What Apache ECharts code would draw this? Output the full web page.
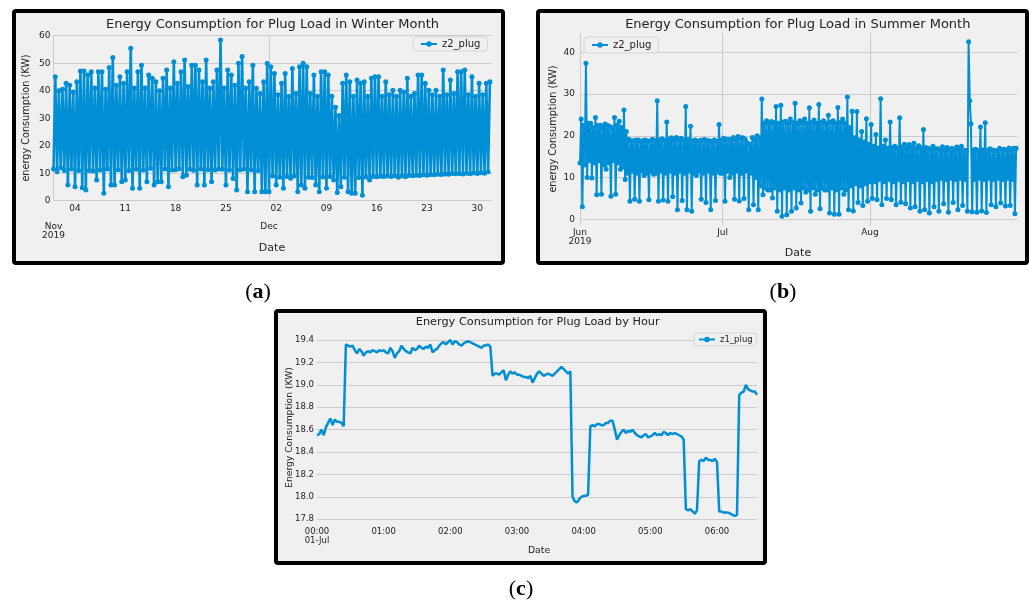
<!DOCTYPE html>
<html><head><meta charset="utf-8">
<script src="https://cdn.jsdelivr.net/npm/echarts@6/dist/echarts.min.js"></script>
<style>html,body{margin:0;padding:0;background:#fff}#c{width:1029px;height:603px}</style>
</head><body><div id="c"></div>
<script>
// ---------- (a) Winter: Nov 1 – Dec 31 2019, readings every 6 h ----------
const winterStepDays = 0.25;
const winterValues = [
11.5,45.1,10.5,40.0, 12.0,40.5,11.0,42.7, 5.7,42.0,11.5,39.5, 5.1,43.3,11.0,47.2,
4.7,47.2,3.9,45.7, 11.0,46.9,10.8,41.0, 7.5,46.9,11.2,46.9, 2.7,40.5,11.5,48.4,
5.7,52.1,5.7,42.0, 11.3,45.1,6.9,42.7, 7.5,46.9,11.0,55.4, 4.5,41.0,11.4,46.9,
4.5,49.3,11.2,41.0, 6.9,45.7,11.8,44.5, 5.7,43.3,6.9,40.0, 6.9,44.5,11.5,47.5,
5.1,41.0,11.2,50.5, 11.3,42.7,11.6,46.9, 8.7,51.2,9.3,41.5, 11.4,49.3,11.1,49.3,
5.7,47.5,11.5,43.3, 5.7,51.2,11.3,41.0, 6.9,43.3,11.2,47.5, 11.5,58.4,11.4,41.0,
5.7,47.5,11.2,45.7, 8.1,42.0,3.9,50.0, 11.3,52.4,11.5,41.0, 3.3,43.3,11.3,49.3,
3.3,40.9,11.0,39.0, 3.3,43.3,3.3,49.9, 3.3,48.7,9.0,46.3, 5.7,38.5,8.5,42.7,
4.5,46.3,8.8,38.0, 8.2,48.1,9.0,39.0, 3.3,48.7,5.7,50.0, 4.5,48.7,8.5,39.0,
8.4,45.7,5.7,38.0, 3.3,46.9,8.6,46.9, 4.5,45.7,8.8,38.0, 7.5,34.0,3.0,31.0,
5.1,42.7,8.5,45.7, 3.3,43.3,2.7,38.0, 2.7,43.9,8.4,42.7, 2.0,43.3,8.6,38.0,
7.5,44.5,8.8,45.1, 8.7,45.1,8.9,38.0, 8.8,43.3,9.0,38.5, 8.8,40.2,9.1,38.0,
8.5,40.2,9.0,39.5, 8.7,44.5,9.2,38.0, 9.1,39.0,9.3,45.7, 9.2,45.7,9.4,42.7,
9.3,40.2,9.5,38.5, 9.4,40.2,9.6,38.0, 9.5,47.5,9.7,38.5, 9.6,43.9,9.9,39.0,
9.8,46.9,9.9,46.9, 9.7,47.5,10.0,38.5, 9.8,45.1,10.1,38.0, 9.9,42.7,10.2,38.5,
10.0,42.7,10.5,43.3
];
const winterTickDays = [3,10,17,24,31,38,45,52,59];
const winterTickLabels = ['04','11','18','25','02','09','16','23','30'];
const winterMonthDays = [0,30];
const winterMonthLabels = ['Nov\n2019','Dec'];
const winterYTicks = [0,10,20,30,40,50,60];

// ---------- (b) Summer: Jun 1 – Aug 31 2019, readings every 6 h ----------
const summerStepDays = 0.25;
const summerValues = [
13.5,24.0,3.0,22.5, 13.0,37.4,10.0,23.0, 14.0,23.0,9.9,22.0, 13.5,24.4,5.9,22.5,
14.0,22.5,6.0,22.0, 13.0,22.8,12.0,22.5, 13.5,22.2,5.5,22.0, 14.0,24.4,6.0,22.5,
13.5,23.5,12.0,22.0, 12.5,26.2,9.5,21.0, 11.0,19.2,4.3,18.8, 11.5,18.8,4.8,19.0,
11.0,19.0,4.3,18.7, 11.5,18.9,10.5,19.0, 11.0,18.7,4.7,18.8, 11.5,19.2,10.8,18.9,
11.0,28.4,4.3,19.0, 11.5,19.3,4.6,18.9, 11.0,23.3,4.3,19.2, 11.5,19.5,5.4,19.0,
11.0,19.6,2.3,19.2, 11.5,19.4,4.5,19.0, 11.0,27.0,2.3,19.1, 11.5,22.3,1.9,18.8,
11.0,19.0,10.5,18.7, 11.5,18.9,4.8,19.0, 11.0,19.1,4.0,18.8, 11.5,18.8,2.3,18.6,
11.0,19.0,4.5,18.7, 11.5,22.7,11.0,19.0, 11.0,19.4,4.3,19.2, 11.5,19.2,10.0,19.0,
11.0,19.6,4.8,19.3, 11.5,19.8,4.4,19.5, 11.0,19.5,5.0,19.2, 11.5,18.3,2.3,18.0,
11.0,19.6,3.5,19.0, 10.0,20.0,2.3,19.5, 8.0,28.8,5.9,23.0, 7.5,23.6,7.0,23.0,
7.0,23.4,5.1,23.2, 7.5,27.0,1.9,23.0, 7.0,27.3,0.7,23.3, 7.5,23.5,1.1,23.0,
7.0,24.0,1.9,23.2, 7.5,27.8,2.7,23.0, 7.0,23.6,3.9,23.3, 7.5,24.0,6.5,23.0,
7.0,26.7,1.9,23.2, 7.5,23.8,6.0,23.0, 7.0,27.5,2.5,23.2, 7.5,23.6,7.0,23.0,
7.0,24.9,1.5,23.3, 7.5,23.6,1.2,23.0, 7.0,26.8,1.2,23.2, 7.5,24.0,6.0,23.0,
7.0,29.3,2.3,22.0, 8.0,25.9,2.0,19.5, 8.5,25.8,4.0,19.0, 8.0,21.0,3.3,18.5,
8.5,24.1,4.3,18.0, 9.0,22.7,5.0,17.5, 9.0,20.3,4.7,17.0, 9.5,28.9,3.5,17.5,
9.0,19.0,5.0,17.0, 9.5,23.3,4.7,17.2, 9.0,17.5,3.5,17.0, 9.5,24.3,4.1,17.3,
9.0,18.0,3.7,17.0, 9.5,17.9,2.7,17.2, 9.0,18.2,3.0,17.0, 9.5,17.6,1.9,17.0,
9.0,21.5,2.3,17.2, 9.5,17.0,1.5,16.8, 9.0,17.5,3.0,16.9, 9.5,16.9,1.9,16.6,
9.8,17.4,3.7,16.5, 9.5,17.2,1.7,16.6, 9.8,17.0,4.0,16.5, 9.5,17.3,2.3,16.7,
9.8,17.5,3.3,16.5, 9.5,16.5,1.9,42.5, 28.4,22.9,1.8,16.6, 9.5,16.8,1.7,16.5,
9.8,22.1,2.0,16.6, 9.5,23.1,1.6,16.5, 9.8,16.9,3.5,16.6, 9.5,16.5,3.0,16.4,
9.8,17.0,3.9,16.6, 9.5,16.8,3.2,16.5, 9.8,17.1,3.3,16.6, 9.5,17.0,1.3,17.0
];
const summerMonthDays = [0,30,61];
const summerMonthLabels = ['Jun\n2019','Jul','Aug'];
const summerYTicks = [0,10,20,30,40];

// ---------- (c) By hour: 01-Jul 00:00 – 06:36, readings every 2 min ----------
const hourStepMin = 2;
const hourValues = [
18.55,18.56,18.60,18.55,18.62,18.66,18.70,18.64,18.69,18.67,
18.67,18.66,18.63,19.36,19.35,19.34,19.35,19.31,19.28,19.32,
19.30,19.26,19.29,19.30,19.29,19.31,19.30,19.29,19.31,19.30,
19.31,19.29,19.28,19.33,19.30,19.24,19.28,19.30,19.35,19.32,
19.30,19.29,19.28,19.33,19.31,19.32,19.35,19.33,19.32,19.34,
19.33,19.36,19.29,19.31,19.32,19.35,19.37,19.38,19.36,19.38,
19.40,19.36,19.39,19.38,19.36,19.35,19.37,19.38,19.39,19.38,
19.37,19.36,19.35,19.34,19.33,19.35,19.35,19.36,19.34,19.08,
19.10,19.10,19.09,19.11,19.13,19.04,19.09,19.12,19.10,19.11,
19.09,19.09,19.08,19.07,19.07,19.06,19.08,19.02,19.06,19.10,
19.12,19.10,19.08,19.09,19.10,19.09,19.08,19.10,19.12,19.14,
19.16,19.14,19.12,19.10,19.12,18.00,17.96,17.95,17.98,18.00,
18.01,18.01,18.02,18.63,18.64,18.63,18.65,18.65,18.64,18.64,
18.66,18.66,18.68,18.68,18.60,18.51,18.55,18.58,18.60,18.57,
18.59,18.58,18.60,18.57,18.55,18.54,18.53,18.55,18.56,18.53,
18.54,18.55,18.57,18.55,18.56,18.55,18.58,18.57,18.55,18.57,
18.56,18.57,18.56,18.55,18.54,18.51,17.89,17.88,17.89,17.87,
17.85,17.88,18.32,18.33,18.32,18.35,18.33,18.33,18.32,18.34,
18.31,17.87,17.87,17.86,17.86,17.86,17.85,17.84,17.83,17.84,
18.91,18.93,18.94,19.00,18.96,18.95,18.94,18.94,18.91
];
const hourTickMin = [0,60,120,180,240,300,360];
const hourTickLabels = ['00:00\n01-Jul','01:00','02:00','03:00','04:00','05:00','06:00'];
const hourYTicks = [17.8,18.0,18.2,18.4,18.6,18.8,19.0,19.2,19.4];

// ---------- style ----------
const BLUE = '#008fd5', GRIDC = '#cbcbcb', TXT = '#222', FONT = 'DejaVu Sans';
const lookup = (vals, labels) => v => { const i = vals.findIndex(x => Math.abs(x - v) < 1e-6); return i < 0 ? '' : labels[i]; };

const chart = echarts.init(document.getElementById('c'), null, {renderer: 'canvas', width: 1029, height: 603});

function txt(x, y, text, size, opts) {
  return Object.assign({type: 'text', x: x, y: y, silent: true, z: 5,
    style: {text: text, font: size + 'px "' + FONT + '"', fill: TXT, textAlign: 'center', textVerticalAlign: 'middle'}}, opts || {});
}
function frame(x, y, w, h) {
  return {type: 'rect', z: -10, silent: true, shape: {x: x, y: y, width: w, height: h, r: 2},
    style: {fill: '#f0f0f0', stroke: '#000', lineWidth: 4}};
}
function caption(x, y, letter) {
  return {type: 'text', x: x, y: y, silent: true, z: 5,
    style: {text: '{p|(}{b|' + letter + '}{p|)}', textAlign: 'center', textVerticalAlign: 'middle',
      rich: {p: {fontFamily: 'Liberation Serif', fontSize: 22, fill: '#000', fontWeight: 'normal'},
             b: {fontFamily: 'Liberation Serif', fontSize: 22, fill: '#000', fontWeight: 'bold'}}}};
}
const axisBase = {axisLine: {show: false}, axisTick: {show: false}, splitLine: {show: false}};
const lbl = (size, extra) => Object.assign({fontSize: size, color: TXT, fontFamily: FONT}, extra || {});
const legendBase = {orient: 'horizontal', itemWidth: 16, itemHeight: 7, borderColor: '#d4d4d4', borderWidth: 1,
  borderRadius: 3, backgroundColor: '#f0f0f0', selectedMode: false};

const option = {
  animation: false,
  backgroundColor: '#ffffff',
  grid: [
    {left: 53.5, top: 35.7, width: 438.2, height: 165, outerBoundsMode: 'none'},
    {left: 580, top: 33.1, width: 437.3, height: 191.6, outerBoundsMode: 'none'},
    {left: 317, top: 329.9, width: 440, height: 195, outerBoundsMode: 'none'}
  ],
  xAxis: [
    Object.assign({}, axisBase, {gridIndex: 0, type: 'value', min: 0, max: 61,
      axisTick: {show: false, customValues: winterTickDays},
      axisLabel: lbl(9, {customValues: winterTickDays, formatter: lookup(winterTickDays, winterTickLabels), margin: 3})}),
    Object.assign({}, axisBase, {gridIndex: 0, type: 'value', min: 0, max: 61, position: 'bottom', offset: 18,
      axisTick: {show: false, customValues: winterMonthDays},
      splitLine: {show: true, lineStyle: {color: GRIDC, width: 1}},
      axisLabel: lbl(9, {customValues: winterMonthDays, formatter: lookup(winterMonthDays, winterMonthLabels), margin: 3, lineHeight: 9.5})}),
    Object.assign({}, axisBase, {gridIndex: 1, type: 'value', min: 0, max: 92,
      axisTick: {show: false, customValues: summerMonthDays},
      splitLine: {show: true, lineStyle: {color: GRIDC, width: 1}},
      axisLabel: lbl(9, {customValues: summerMonthDays, formatter: lookup(summerMonthDays, summerMonthLabels), margin: 3, lineHeight: 9.5})}),
    Object.assign({}, axisBase, {gridIndex: 2, type: 'value', min: 0, max: 396,
      axisTick: {show: false, customValues: hourTickMin},
      axisLabel: lbl(8.5, {customValues: hourTickMin, formatter: lookup(hourTickMin, hourTickLabels), margin: 3, lineHeight: 8.7})})
  ],
  yAxis: [
    Object.assign({}, axisBase, {gridIndex: 0, type: 'value', min: 0, max: 60,
      axisTick: {show: false, customValues: winterYTicks},
      splitLine: {show: true, lineStyle: {color: GRIDC, width: 1}},
      axisLabel: lbl(9, {customValues: winterYTicks, margin: 3})}),
    Object.assign({}, axisBase, {gridIndex: 1, type: 'value', min: -1.3, max: 44.6,
      axisTick: {show: false, customValues: summerYTicks},
      splitLine: {show: true, lineStyle: {color: GRIDC, width: 1}},
      axisLabel: lbl(9, {customValues: summerYTicks, margin: 5})}),
    Object.assign({}, axisBase, {gridIndex: 2, type: 'value', min: 17.75, max: 19.49,
      axisTick: {show: false, customValues: hourYTicks},
      splitLine: {show: true, lineStyle: {color: GRIDC, width: 1}},
      axisLabel: lbl(8.5, {customValues: hourYTicks, formatter: v => v.toFixed(1), margin: 3})})
  ],
  legend: [
    Object.assign({}, legendBase, {left: 413, top: 37, padding: [2, 7], data: ['z2_plug'],
      textStyle: {fontSize: 10, color: TXT, fontFamily: FONT}}),
    Object.assign({}, legendBase, {left: 584, top: 37, padding: [3, 7], data: ['z2_plug'],
      textStyle: {fontSize: 10, color: TXT, fontFamily: FONT}}),
    Object.assign({}, legendBase, {left: 694, top: 333, padding: [2, 4], data: ['z1_plug'],
      textStyle: {fontSize: 8.5, color: TXT, fontFamily: FONT}})
  ],
  series: [
    {name: 'z2_plug', type: 'line', xAxisIndex: 0, yAxisIndex: 0,
      data: winterValues.map((v, i) => [i * winterStepDays, v]),
      symbol: 'circle', symbolSize: 5, showSymbol: true,
      lineStyle: {color: BLUE, width: 2.6}, itemStyle: {color: BLUE}},
    {name: 'z2_plug', type: 'line', xAxisIndex: 2, yAxisIndex: 1,
      data: summerValues.map((v, i) => [i * summerStepDays, v]),
      symbol: 'circle', symbolSize: 5, showSymbol: true,
      lineStyle: {color: BLUE, width: 2}, itemStyle: {color: BLUE}},
    {name: 'z1_plug', type: 'line', xAxisIndex: 3, yAxisIndex: 2,
      data: hourValues.map((v, i) => [i * hourStepMin, v]),
      symbol: 'none', lineStyle: {color: BLUE, width: 2.5}, itemStyle: {color: BLUE}}
  ],
  graphic: {elements: [
    frame(14, 11, 489, 252),
    frame(538, 11, 489, 252),
    frame(276, 311, 489, 252),
    txt(272.5, 25, 'Energy Consumption for Plug Load in Winter Month', 13),
    txt(797.8, 25, 'Energy Consumption for Plug Load in Summer Month', 13),
    txt(537.7, 322.3, 'Energy Consumption for Plug Load by Hour', 11.3),
    txt(272, 247.7, 'Date', 11),
    txt(798, 253.3, 'Date', 11),
    txt(539, 550.7, 'Date', 9.3),
    txt(26, 118, 'energy Consumption (KW)', 9.7, {rotation: Math.PI / 2}),
    txt(553.3, 129, 'energy Consumption (KW)', 9.7, {rotation: Math.PI / 2}),
    txt(290, 427.5, 'Energy Consumption (KW)', 9.2, {rotation: Math.PI / 2}),
    caption(258, 292, 'a'),
    caption(783, 292, 'b'),
    caption(521, 589, 'c')
  ]}
};
chart.setOption(option);
</script></body></html>
